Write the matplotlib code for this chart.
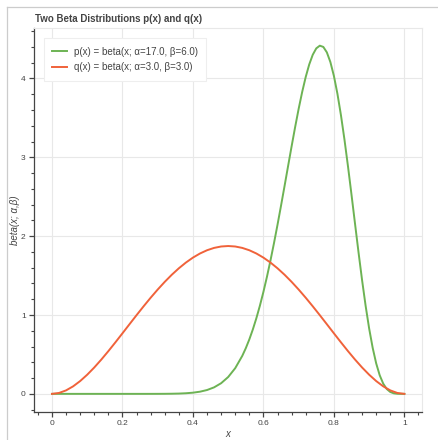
import matplotlib.pyplot as plt
from matplotlib.ticker import MultipleLocator, FuncFormatter
from matplotlib.lines import Line2D

plt.rcParams['font.family'] = ['Liberation Sans', 'DejaVu Sans']

# valores
x_q = [0.00, 0.02, 0.04, 0.06, 0.08, 0.10, 0.12, 0.14, 0.16, 0.18,
       0.20, 0.22, 0.24, 0.26, 0.28, 0.30, 0.32, 0.34, 0.36, 0.38,
       0.40, 0.42, 0.44, 0.46, 0.48, 0.50, 0.52, 0.54, 0.56, 0.58,
       0.60, 0.62, 0.64, 0.66, 0.68, 0.70, 0.72, 0.74, 0.76, 0.78,
       0.80, 0.82, 0.84, 0.86, 0.88, 0.90, 0.92, 0.94, 0.96, 0.98, 1.00]
q_vals = [0, 0.0115, 0.0442, 0.0954, 0.1625, 0.2430, 0.3345, 0.4349, 0.5419, 0.6536,
          0.7680, 0.8834, 0.9981, 1.1105, 1.2193, 1.3230, 1.4205, 1.5107, 1.5925, 1.6652,
          1.7280, 1.7802, 1.8214, 1.8511, 1.8690, 1.8750, 1.8690, 1.8511, 1.8214, 1.7802,
          1.7280, 1.6652, 1.5925, 1.5107, 1.4205, 1.3230, 1.2193, 1.1105, 0.9981, 0.8834,
          0.7680, 0.6536, 0.5419, 0.4349, 0.3345, 0.2430, 0.1625, 0.0954, 0.0442, 0.0115, 0]

x_p = [0.00, 0.10, 0.20, 0.26, 0.28, 0.30, 0.32, 0.34, 0.36, 0.38,
       0.40, 0.42, 0.44, 0.46, 0.48, 0.50, 0.52, 0.54, 0.55, 0.56,
       0.57, 0.58, 0.59, 0.60, 0.61, 0.62, 0.63, 0.64, 0.65, 0.66,
       0.67, 0.68, 0.69, 0.70, 0.71, 0.72, 0.73, 0.74, 0.75, 0.76,
       0.77, 0.78, 0.79, 0.80, 0.81, 0.82, 0.83, 0.84, 0.85, 0.86,
       0.87, 0.88, 0.89, 0.90, 0.91, 0.92, 0.93, 0.94, 0.95, 0.96,
       0.97, 0.98, 0.99, 1.00]
p_vals = [0, 0, 0, 0, 0.0001, 0.0003, 0.0008, 0.0018, 0.0038, 0.0078,
          0.0150, 0.0276, 0.0487, 0.0826, 0.1352, 0.2135, 0.3260, 0.4820, 0.5792, 0.6906,
          0.8172, 0.9597, 1.1183, 1.2933, 1.4845, 1.6910, 1.9118, 2.1447, 2.3876, 2.6366,
          2.8889, 3.1393, 3.3835, 3.6153, 3.8290, 4.0185, 4.1779, 4.3007, 4.3819, 4.4159,
          4.3999, 4.3310, 4.2084, 4.0323, 3.8062, 3.5346, 3.2245, 2.8844, 2.5242, 2.1557,
          1.7905, 1.4408, 1.1173, 0.8296, 0.5846, 0.3864, 0.2356, 0.1294, 0.0616, 0.0239,
          0.0068, 0.0010, 0.0001, 0]

etiquetas = ["p(x) = beta(x; α=17.0, β=6.0)", "q(x) = beta(x; α=3.0, β=3.0)"]
verde = "#6db354"
naranja = "#f0623a"
gris = "#444444"

fig = plt.figure(figsize=(4.39, 4.40), dpi=100)
ax = fig.add_axes([34 / 439, 1 - 412 / 440, (422 - 34) / 439, (412 - 28) / 440])

# borde exterior
fig.add_artist(Line2D([7 / 439, 7 / 439], [0, 1 - 7 / 440], color="#cccccc", lw=0.9))
fig.add_artist(Line2D([7 / 439, 1], [1 - 7 / 440, 1 - 7 / 440], color="#cccccc", lw=0.9))

ax.plot(x_p, p_vals, color=verde, lw=1.4, label=etiquetas[0])
ax.plot(x_q, q_vals, color=naranja, lw=1.4, label=etiquetas[1])

ax.set_xlim(-0.051, 1.05)
ax.set_ylim(-0.23, 4.64)

ax.xaxis.set_major_locator(MultipleLocator(0.2))
ax.xaxis.set_minor_locator(MultipleLocator(0.04))
ax.yaxis.set_major_locator(MultipleLocator(1))
ax.yaxis.set_minor_locator(MultipleLocator(0.2))
ax.xaxis.set_major_formatter(FuncFormatter(lambda v, _: "%g" % round(v, 2)))

ax.grid(True, which="major", color="#e8e8e8", lw=0.8)
ax.set_axisbelow(True)

for s in ["top", "right"]:
    ax.spines[s].set_color("#e8e8e8")
    ax.spines[s].set_linewidth(0.8)
for s in ["left", "bottom"]:
    ax.spines[s].set_color(gris)
    ax.spines[s].set_linewidth(0.9)

ax.tick_params(which="major", direction="out", length=3.5, width=0.9, color=gris,
               labelsize=6, labelcolor="#444444", pad=2.5)
ax.tick_params(which="minor", direction="out", length=2.2, width=0.8, color=gris)

ax.set_xlabel("x", fontsize=7, style="italic", color="#444444", labelpad=1)
ax.set_ylabel("beta(x; α,β)", fontsize=7, style="italic", color="#444444", labelpad=1)

fig.text(35 / 439, 1 - 19 / 440, "Two Beta Distributions p(x) and q(x)",
         fontsize=7.0, fontweight="bold", color="#444444", va="center")

leg = ax.legend(loc="upper left", bbox_to_anchor=(0.012, 0.987), fontsize=7.0,
                frameon=True, fancybox=False, edgecolor="#eeeeee", framealpha=1,
                handlelength=1.5, handletextpad=0.7, borderpad=0.9, labelspacing=0.6)
leg.get_frame().set_linewidth(0.8)
for t in leg.get_texts():
    t.set_color("#444444")

fig.savefig("out.png", dpi=100)
